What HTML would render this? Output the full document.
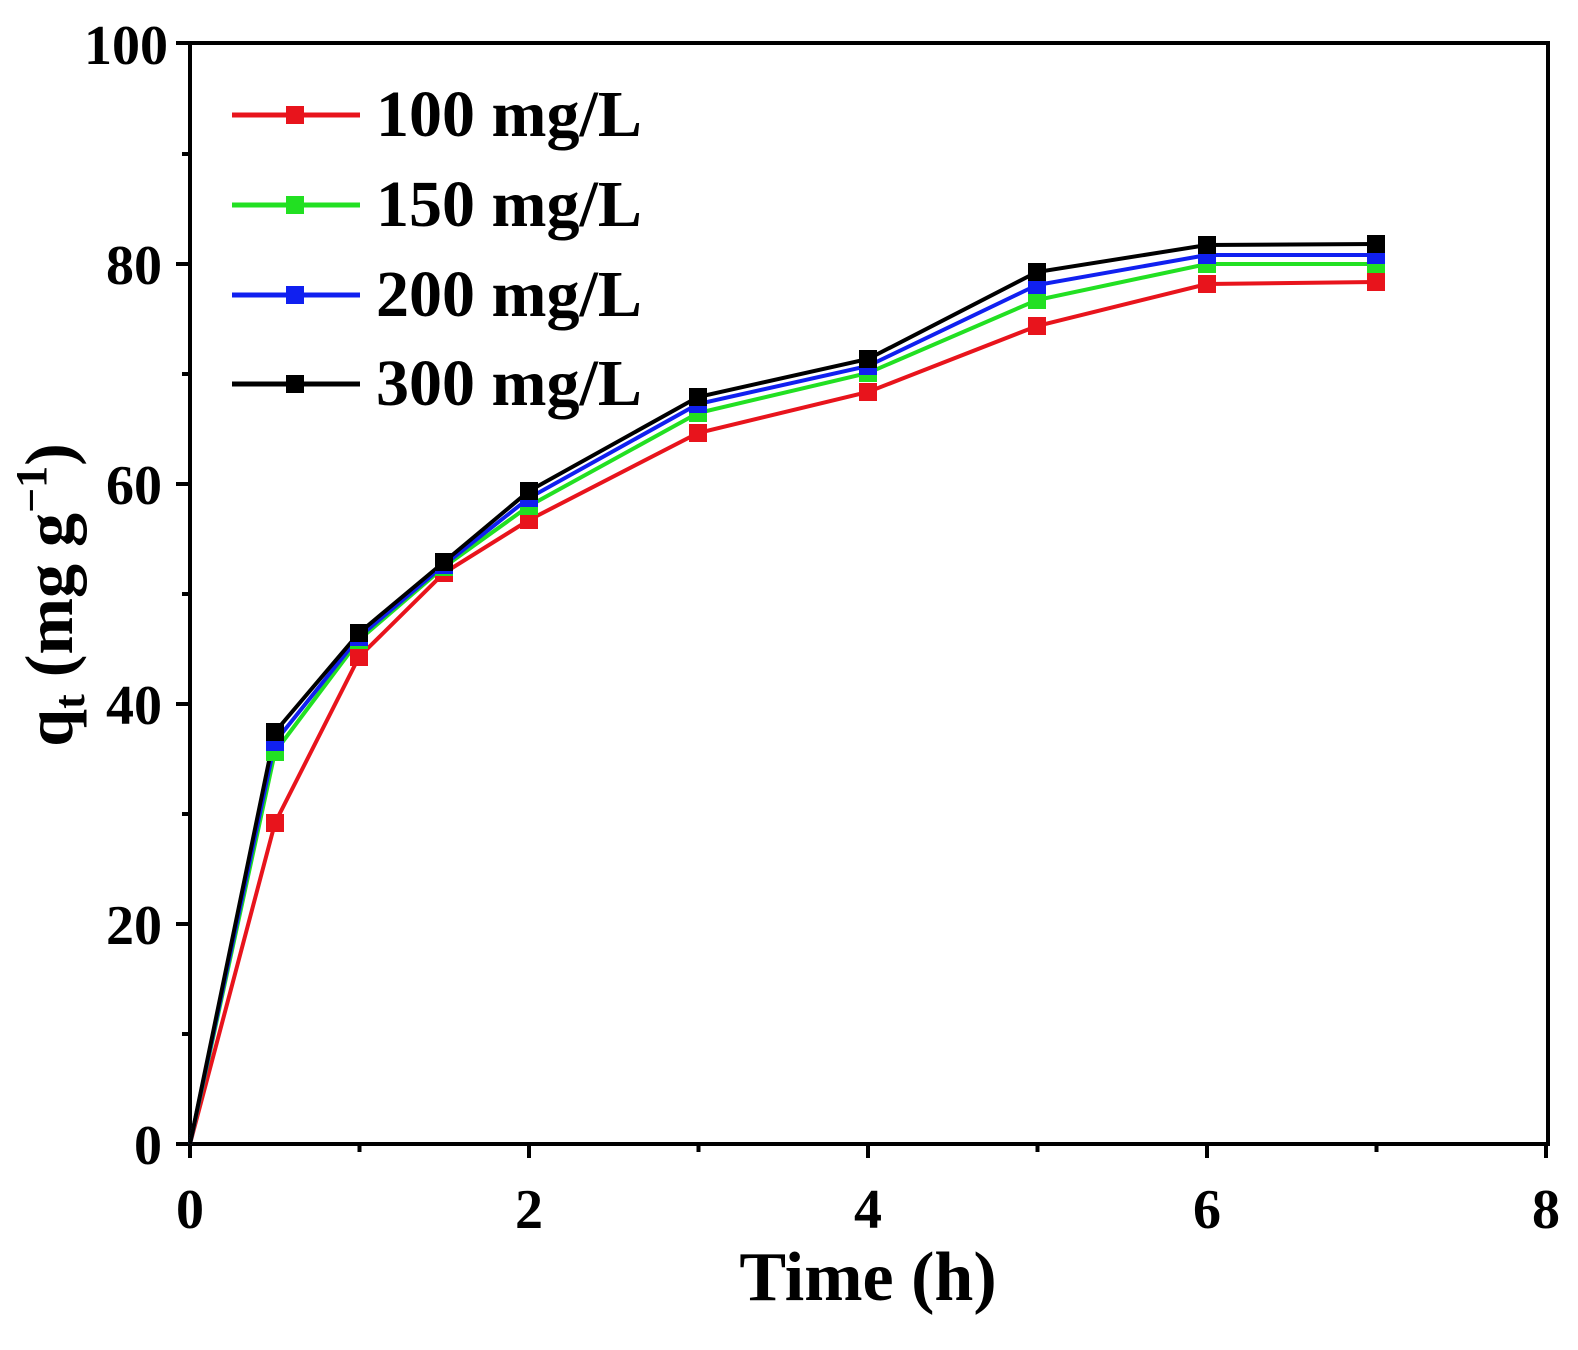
<!DOCTYPE html>
<html><head><style>body{margin:0;background:#fff}</style></head><body>
<svg width="1578" height="1345" xmlns="http://www.w3.org/2000/svg" font-family="Liberation Serif, serif" font-weight="bold">
<rect width="1578" height="1345" fill="#fff"/>
<g stroke="#000" stroke-width="4" fill="none">
<rect x="190" y="43" width="1358" height="1101"/>
<path d="M190 1144v14M359.5 1144v8M529 1144v14M698.5 1144v8M868 1144v14M1037.5 1144v8M1207 1144v14M1376.5 1144v8M1546 1144v14"/>
<path d="M190 1144h-14M190 1034h-8M190 924h-14M190 814h-8M190 704h-14M190 594h-8M190 484h-14M190 374h-8M190 264h-14M190 154h-8M190 43h-14"/>
</g>
<g font-size="56" text-anchor="middle">
<text x="190" y="1228">0</text><text x="529" y="1228">2</text><text x="868" y="1228">4</text><text x="1207" y="1228">6</text><text x="1546" y="1228">8</text>
</g>
<g font-size="56" text-anchor="end">
<text x="162" y="1164">0</text><text x="162" y="944">20</text><text x="162" y="724">40</text><text x="162" y="504">60</text><text x="162" y="284">80</text><text x="168" y="64">100</text>
</g>
<text x="868" y="1300" font-size="70" text-anchor="middle">Time (h)</text>
<text transform="translate(72 595) rotate(-90)" font-size="68" text-anchor="middle">q<tspan font-size="44" dy="12">t</tspan><tspan dy="-12"> (mg g</tspan><tspan font-size="44" dy="-26">−1</tspan><tspan dy="26">)</tspan></text>
<g stroke-width="4" fill="none">
<polyline stroke="#e8141c" points="190,1144 275,823 359,657 444,573 529,520 698,433 868,392 1037,326 1207,284 1376,282"/>
<polyline stroke="#22e022" points="190,1144 275,752 359,640 444,567 529,506 698,413 868,373 1037,300 1207,264 1376,264"/>
<polyline stroke="#1020f0" points="190,1144 275,742 359,637 444,565 529,498 698,404 868,366 1037,285 1207,255 1376,255"/>
<polyline stroke="#000" points="190,1144 275,732 359,633 444,562 529,491 698,397 868,359 1037,272 1207,245 1376,244"/>
</g>
<g fill="#e8141c"><rect x="266" y="814" width="18" height="18"/><rect x="350" y="648" width="18" height="18"/><rect x="435" y="564" width="18" height="18"/><rect x="520" y="511" width="18" height="18"/><rect x="689" y="424" width="18" height="18"/><rect x="859" y="383" width="18" height="18"/><rect x="1028" y="317" width="18" height="18"/><rect x="1198" y="275" width="18" height="18"/><rect x="1367" y="273" width="18" height="18"/></g>
<g fill="#22e022"><rect x="266" y="743" width="18" height="18"/><rect x="350" y="631" width="18" height="18"/><rect x="435" y="558" width="18" height="18"/><rect x="520" y="497" width="18" height="18"/><rect x="689" y="404" width="18" height="18"/><rect x="859" y="364" width="18" height="18"/><rect x="1028" y="291" width="18" height="18"/><rect x="1198" y="255" width="18" height="18"/><rect x="1367" y="255" width="18" height="18"/></g>
<g fill="#1020f0"><rect x="266" y="733" width="18" height="18"/><rect x="350" y="628" width="18" height="18"/><rect x="435" y="556" width="18" height="18"/><rect x="520" y="489" width="18" height="18"/><rect x="689" y="395" width="18" height="18"/><rect x="859" y="357" width="18" height="18"/><rect x="1028" y="276" width="18" height="18"/><rect x="1198" y="246" width="18" height="18"/><rect x="1367" y="246" width="18" height="18"/></g>
<g fill="#000"><rect x="266" y="723" width="18" height="18"/><rect x="350" y="624" width="18" height="18"/><rect x="435" y="553" width="18" height="18"/><rect x="520" y="482" width="18" height="18"/><rect x="689" y="388" width="18" height="18"/><rect x="859" y="350" width="18" height="18"/><rect x="1028" y="263" width="18" height="18"/><rect x="1198" y="236" width="18" height="18"/><rect x="1367" y="235" width="18" height="18"/></g>
<g stroke-width="5">
<line x1="232" y1="115" x2="360" y2="115" stroke="#e8141c"/>
<line x1="232" y1="205" x2="360" y2="205" stroke="#22e022"/>
<line x1="232" y1="295" x2="360" y2="295" stroke="#1020f0"/>
<line x1="232" y1="384" x2="360" y2="384" stroke="#000"/>
</g>
<rect x="286" y="106" width="18" height="18" fill="#e8141c"/>
<rect x="286" y="196" width="18" height="18" fill="#22e022"/>
<rect x="286" y="286" width="18" height="18" fill="#1020f0"/>
<rect x="286" y="375" width="18" height="18" fill="#000"/>
<g font-size="66">
<text x="376" y="136">100 mg/L</text>
<text x="376" y="226">150 mg/L</text>
<text x="376" y="316">200 mg/L</text>
<text x="376" y="405">300 mg/L</text>
</g>
</svg>
</body></html>
